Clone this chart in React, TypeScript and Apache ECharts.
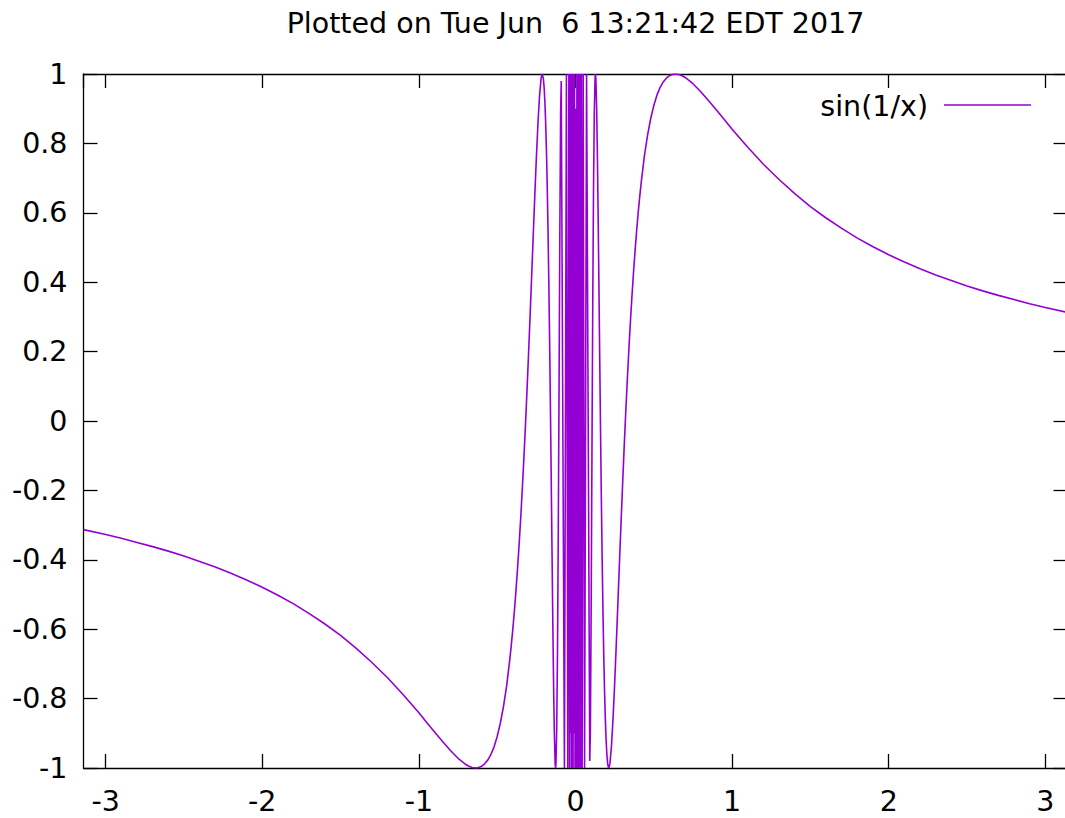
import React, { useEffect, useRef } from "react";
import * as echarts from "echarts";

// ---- data ----
const TITLE = "Plotted on Tue Jun  6 13:21:42 EDT 2017";
const SERIES_NAME = "sin(1/x)";

const X_MIN = -3.1416;
const X_MAX = 3.1416;
const Y_MIN = -1;
const Y_MAX = 1;
const Y_STEP = 0.2;

const leftX = [
  -3.1416, -3.0, -2.9, -2.8, -2.7, -2.6, -2.5, -2.4, -2.3, -2.2, -2.1, -2.0, -1.9, -1.8, -1.7,
  -1.6, -1.5, -1.4, -1.3, -1.2, -1.1, -1.0, -0.95, -0.9, -0.85, -0.8, -0.75, -0.7, -0.68, -0.66,
  -0.6366, -0.62, -0.6, -0.58, -0.56, -0.54, -0.52, -0.5, -0.48, -0.46, -0.44, -0.42, -0.41,
  -0.4, -0.39, -0.38, -0.37, -0.36, -0.35, -0.34, -0.33, -0.32, -0.31, -0.3, -0.29, -0.28,
  -0.27, -0.26, -0.25, -0.24, -0.23, -0.22, -0.215, -0.2122, -0.21, -0.205, -0.2, -0.195, -0.19,
  -0.185, -0.18, -0.175, -0.17, -0.165, -0.16, -0.155, -0.15, -0.145, -0.14, -0.135, -0.13,
  -0.1273, -0.125, -0.12, -0.115, -0.11, -0.105, -0.1, -0.095, -0.091,
];
const leftY = [
  -0.313, -0.327, -0.338, -0.35, -0.362, -0.375, -0.389, -0.405, -0.421, -0.439, -0.458, -0.479,
  -0.502, -0.527, -0.555, -0.585, -0.618, -0.655, -0.696, -0.74, -0.789, -0.841, -0.869, -0.896,
  -0.923, -0.949, -0.972, -0.99, -0.995, -0.9985, -1.0, -0.999, -0.995, -0.988, -0.977, -0.961,
  -0.939, -0.909, -0.871, -0.823, -0.764, -0.689, -0.646, -0.599, -0.546, -0.488, -0.425,
  -0.356, -0.281, -0.199, -0.111, -0.017, 0.084, 0.191, 0.302, 0.417, 0.533, 0.648, 0.757,
  0.855, 0.935, 0.986, 0.998, 1.0, 0.999, 0.986, 0.959, 0.915, 0.852, 0.77, 0.665, 0.539, 0.39,
  0.221, 0.033, -0.168, -0.374, -0.576, -0.758, -0.902, -0.987, -1.0, -0.989, -0.887, -0.666,
  -0.328, 0.099, 0.544, 0.892, 0.98,
];

const centerX = [
  -0.0707, -0.0579, -0.049, -0.0424, -0.0375, -0.0335, -0.0303, -0.0277, -0.0255, -0.0236,
  -0.022, -0.0205, -0.0193, -0.0182, -0.0172, -0.0163, -0.0155, -0.012, -0.009, -0.006, -0.003,
  0.003, 0.006, 0.009, 0.012, 0.0155, 0.0163, 0.0172, 0.0182, 0.0193, 0.0205, 0.022, 0.0236,
  0.0255, 0.0277, 0.0303, 0.0335, 0.0375, 0.0424, 0.049, 0.0579, 0.0707,
];
const centerY = [
  -1, 1, -1, 1, -1, 1, -0.9, 1, -1, 1, -1, 1, -1, 1, -1, 1, -1, 1, -0.9, 1, -1,
  0.9, -1, 1, -1, 1, -1, 1, -1, 1, -1, 1, -1, 0.88, -1, 1, -1, 1, -1, 1, -1, 1,
];

const rightX = [
  0.091, 0.095, 0.1, 0.105, 0.11, 0.115, 0.12, 0.125, 0.1273, 0.13, 0.135, 0.14, 0.145, 0.15,
  0.155, 0.16, 0.165, 0.17, 0.175, 0.18, 0.185, 0.19, 0.195, 0.2, 0.205, 0.21, 0.2122, 0.215,
  0.22, 0.23, 0.24, 0.25, 0.26, 0.27, 0.28, 0.29, 0.3, 0.31, 0.32, 0.33, 0.34, 0.35, 0.36, 0.37,
  0.38, 0.39, 0.4, 0.41, 0.42, 0.44, 0.46, 0.48, 0.5, 0.52, 0.54, 0.56, 0.58, 0.6, 0.62, 0.6366,
  0.66, 0.68, 0.7, 0.75, 0.8, 0.85, 0.9, 0.95, 1.0, 1.1, 1.2, 1.3, 1.4, 1.5, 1.6, 1.7, 1.8, 1.9,
  2.0, 2.1, 2.2, 2.3, 2.4, 2.5, 2.6, 2.7, 2.8, 2.9, 3.0, 3.1416,
];
const rightY = [
  -0.98, -0.892, -0.544, -0.099, 0.328, 0.666, 0.887, 0.989, 1.0, 0.987, 0.902, 0.758, 0.576,
  0.374, 0.168, -0.033, -0.221, -0.39, -0.539, -0.665, -0.77, -0.852, -0.915, -0.959, -0.986,
  -0.999, -1.0, -0.998, -0.986, -0.935, -0.855, -0.757, -0.648, -0.533, -0.417, -0.302, -0.191,
  -0.084, 0.017, 0.111, 0.199, 0.281, 0.356, 0.425, 0.488, 0.546, 0.599, 0.646, 0.689, 0.764,
  0.823, 0.871, 0.909, 0.939, 0.961, 0.977, 0.988, 0.995, 0.999, 1.0, 0.9985, 0.995, 0.99,
  0.972, 0.949, 0.923, 0.896, 0.869, 0.841, 0.789, 0.74, 0.696, 0.655, 0.618, 0.585, 0.555,
  0.527, 0.502, 0.479, 0.458, 0.439, 0.421, 0.405, 0.389, 0.375, 0.362, 0.35, 0.338, 0.327,
  0.313,
];

// ---- styling ----
const FONT = "DejaVu Sans";
const LINE_COLOR = "#9400D3";
const FONT_SIZE = 28.5;
const CHART_W = 1080;
const CHART_H = 818;

function pairs(xs: number[], ys: number[]) {
  return xs.map((x, i) => [x, ys[i]]);
}

export default function App() {
  const ref = useRef<HTMLDivElement>(null);

  useEffect(() => {
    if (!ref.current) return;
    const chart = echarts.init(ref.current, undefined, { renderer: "svg" });
    const data = [
      ...pairs(leftX, leftY),
      ...pairs(centerX, centerY),
      ...pairs(rightX, rightY),
    ];
    const axisLine = { show: true, onZero: false, lineStyle: { color: "#000", width: 1.3 } };
    const axisTick = { show: true, inside: true, length: 14, lineStyle: { color: "#000", width: 1.3 } };
    const labelStyle = { color: "#000", fontSize: FONT_SIZE, fontFamily: FONT };

    chart.setOption({
      animation: false,
      backgroundColor: "#fff",
      grid: { left: 83.5, right: 12.5, top: 74, bottom: 50, containLabel: false },
      xAxis: [
        {
          type: "value",
          min: X_MIN,
          max: X_MAX,
          splitNumber: 6,
          position: "bottom",
          axisLine,
          axisTick,
          splitLine: { show: false },
          axisLabel: { ...labelStyle, margin: 19, showMinLabel: false, showMaxLabel: false },
        },
        {
          type: "value",
          min: X_MIN,
          max: X_MAX,
          splitNumber: 6,
          position: "top",
          axisLine,
          axisTick,
          splitLine: { show: false },
          axisLabel: { show: false },
        },
      ],
      yAxis: [
        {
          type: "value",
          min: Y_MIN,
          max: Y_MAX,
          interval: Y_STEP,
          position: "left",
          axisLine,
          axisTick,
          splitLine: { show: false },
          axisLabel: { ...labelStyle, margin: 16 },
        },
        {
          type: "value",
          min: Y_MIN,
          max: Y_MAX,
          interval: Y_STEP,
          position: "right",
          axisLine,
          axisTick,
          splitLine: { show: false },
          axisLabel: { show: false },
        },
      ],
      graphic: [
        {
          type: "text",
          x: 575.5,
          y: 23,
          style: {
            text: TITLE,
            fill: "#000",
            fontSize: FONT_SIZE,
            fontFamily: FONT,
            align: "center",
            verticalAlign: "middle",
          },
        },
        {
          type: "text",
          x: 928,
          y: 106,
          style: {
            text: SERIES_NAME,
            fill: "#000",
            fontSize: FONT_SIZE,
            fontFamily: FONT,
            align: "right",
            verticalAlign: "middle",
          },
        },
        {
          type: "line",
          shape: { x1: 944, y1: 105, x2: 1031, y2: 105 },
          style: { stroke: LINE_COLOR, lineWidth: 1.6 },
        },
      ],
      series: [
        {
          name: SERIES_NAME,
          type: "line",
          xAxisIndex: 0,
          yAxisIndex: 0,
          data,
          showSymbol: false,
          symbol: "none",
          lineStyle: { color: LINE_COLOR, width: 1.6 },
          clip: true,
        },
      ],
    });
    return () => chart.dispose();
  }, []);

  return (
    <div
      style={{
        position: "fixed",
        left: 0,
        top: 0,
        width: 1065,
        height: 818,
        overflow: "hidden",
        background: "#fff",
      }}
    >
      <div ref={ref} style={{ width: CHART_W, height: CHART_H }} />
    </div>
  );
}
